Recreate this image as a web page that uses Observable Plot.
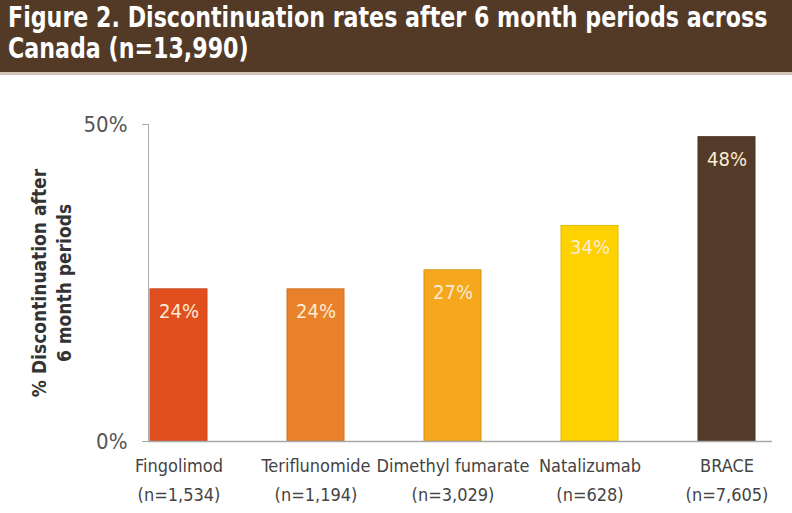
<!DOCTYPE html>
<html>
<head>
<meta charset="utf-8">
<script src="https://cdn.jsdelivr.net/npm/d3@7"></script>
<script src="https://cdn.jsdelivr.net/npm/@observablehq/plot@0.6"></script>
<style>
  html, body { margin: 0; padding: 0; background: #fff; }
  body { width: 792px; height: 513px; overflow: hidden; font-family: "DejaVu Sans Condensed", "Liberation Sans Narrow", sans-serif; }
  #banner {
    background: #533a27; color: #fff; box-sizing: border-box;
    border-bottom: 3px solid #cfc3b8; height: 75px;
    padding: 2px 0 0 8px; font-weight: bold; font-size: 28px; line-height: 31px;
  }
  #banner div { white-space: nowrap; transform: scaleX(0.88); transform-origin: left center; }
  #chart svg { display: block; }
</style>
</head>
<body>
<div id="banner"><div>Figure 2. Discontinuation rates after 6 month periods across</div><div>Canada (n=13,990)</div></div>
<div id="chart"></div>
<script>
const drugs = ["Fingolimod", "Teriflunomide", "Dimethyl fumarate", "Natalizumab", "BRACE"];
const sampleSizes = ["n=1,534", "n=1,194", "n=3,029", "n=628", "n=7,605"];
const rates = [24, 24, 27, 34, 48];
const colors = ["#e14f1f", "#e8812a", "#f5a81d", "#fdd200", "#543a28"];
const yTicks = [0, 50];
const yTitle = "% Discontinuation after\n6 month periods";

const data = drugs.map((d, i) => ({drug: d, n: sampleSizes[i], rate: rates[i], color: colors[i]}));
const nByDrug = new Map(data.map(d => [d.drug, d.n]));
const font = '"DejaVu Sans Condensed", "Liberation Sans Narrow", sans-serif';

const chart = Plot.plot({
  width: 792,
  height: 438,
  marginTop: 49,
  marginBottom: 72,
  marginLeft: 148,
  marginRight: 20,
  style: {fontFamily: font, background: "#fff"},
  x: {domain: drugs, paddingInner: 0.585, paddingOuter: 0, insetRight: 17, insetLeft: 1},
  y: {domain: [0, 50]},
  marks: [
    Plot.barY(data, {x: "drug", y: "rate", fill: "color", stroke: d => d3.color(d.color).darker(0.35).formatHex(), strokeWidth: 1}),
    Plot.frame({anchor: "left", stroke: "#a9a9a9"}),
    Plot.ruleY([0], {stroke: "#a9a9a9", strokeWidth: 1.5}),
    Plot.axisY({ticks: yTicks, tickSize: 6, tickPadding: 15, tickFormat: d => d + "%", fontSize: 22, fill: "#555", stroke: "#a9a9a9", label: null}),
    Plot.axisX({tickSize: 0, tickPadding: 10, lineAnchor: "top", lineHeight: 1.6, fontSize: 18, fill: "#444", label: null,
      tickFormat: d => d + "\n(" + nByDrug.get(d) + ")"}),
    Plot.text([yTitle], {frameAnchor: "left", textAnchor: "middle", rotate: -90, dx: -98, lineAnchor: "middle", lineHeight: 1.3, fontSize: 19, fontWeight: "bold", fill: "#333"}),
    Plot.text(data, {x: "drug", y: "rate", text: d => d.rate + "%", dy: 22, lineAnchor: "middle", fontSize: 20, fill: "#fdebd3"})
  ]
});
document.getElementById("chart").appendChild(chart);
</script>
</body>
</html>
